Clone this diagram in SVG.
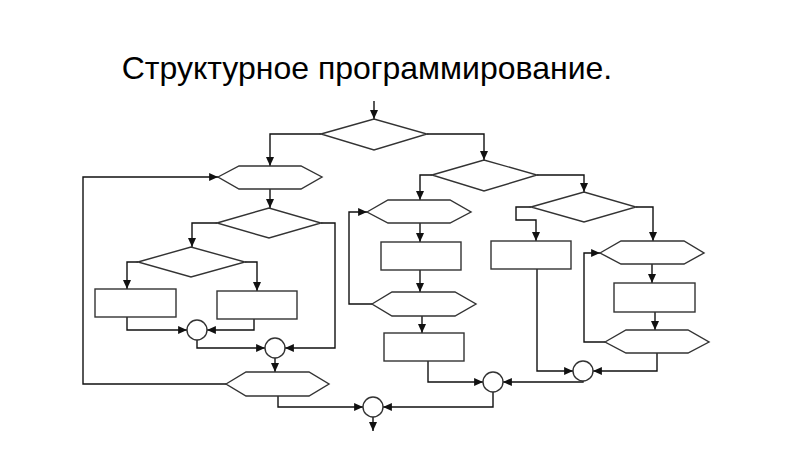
<svg xmlns="http://www.w3.org/2000/svg" width="800" height="450" viewBox="0 0 800 450">
<defs>
<marker id="ar" markerUnits="userSpaceOnUse" markerWidth="9" markerHeight="8" viewBox="0 0 10 9" refX="10" refY="4.5" orient="auto">
<path d="M0,0 L10,4.5 L0,9 z" fill="#111"/>
</marker>
<style>
.s{fill:#fff;stroke:#333;stroke-width:1.4}
.c{fill:none;stroke:#111;stroke-width:1.4;marker-end:url(#ar)}
.t{font-family:"Liberation Sans",Arial,sans-serif;font-size:32px;fill:#000}
</style>
</defs>
<rect width="800" height="450" fill="#fff"/>
<text class="t" x="367" y="79" text-anchor="middle">Структурное программирование.</text>
<g id="connectors">
<path class="c" d="M374,101 V119"/>
<path class="c" d="M321,134 H270 V166"/>
<path class="c" d="M427,134 H484 V160"/>
<path class="c" d="M270,189 V208"/>
<path class="c" d="M217,223 H192 V247"/>
<path class="c" d="M321,223 H335 V348 H285"/>
<path class="c" d="M138,262 H127 V289"/>
<path class="c" d="M245,262 H257 V291"/>
<path class="c" d="M127,317 V330 H187"/>
<path class="c" d="M254,319 V330 H207"/>
<path class="c" d="M197,340 V348 H265"/>
<path class="c" d="M275,358 V372"/>
<path class="c" d="M226,384 H83 V177 H218"/>
<path class="c" d="M278,396 V407 H363"/>
<path class="c" d="M373,417 V431"/>
<path class="c" d="M432,175 H420 V200"/>
<path class="c" d="M537,175 H584 V192"/>
<path class="c" d="M420,223 V242"/>
<path class="c" d="M420,270 V292"/>
<path class="c" d="M372,304 H349 V212 H367"/>
<path class="c" d="M422,316 V333"/>
<path class="c" d="M428,361 V382 H483"/>
<path class="c" d="M583,381 V382 H503"/>
<path class="c" d="M493,392 V407 H383"/>
<path class="c" d="M531,207 H516 V220 H536 V241"/>
<path class="c" d="M636,207 H653 V241"/>
<path class="c" d="M652,264 V283"/>
<path class="c" d="M655,312 V330"/>
<path class="c" d="M605,342 H584 V253 H600"/>
<path class="c" d="M657,353 V371 H593"/>
<path class="c" d="M537,269 V371 H573"/>
</g>
<g id="D1"><polygon class="s" points="321,134 374,119 427,134 374,150"/></g>
<g id="H1"><polygon class="s" points="218,177 239,166 301,166 322,177 301,189 239,189"/></g>
<g id="D2"><polygon class="s" points="217,223 269,208 321,223 269,238"/></g>
<g id="D4"><polygon class="s" points="138,262 191,247 245,262 191,277"/></g>
<g id="B1"><rect class="s" x="95" y="289" width="81" height="28"/></g>
<g id="B2"><rect class="s" x="217" y="291" width="80" height="28"/></g>
<g id="C1"><circle class="s" cx="197" cy="330" r="10"/></g>
<g id="C2"><circle class="s" cx="275" cy="348" r="10"/></g>
<g id="H2"><polygon class="s" points="226,384 246,372 309,372 329,384 309,396 246,396"/></g>
<g id="C5"><circle class="s" cx="373" cy="407" r="10"/></g>
<g id="D3"><polygon class="s" points="432,175 484,160 537,175 484,191"/></g>
<g id="H3"><polygon class="s" points="367,212 388,200 450,200 471,212 450,223 388,223"/></g>
<g id="B3"><rect class="s" x="381" y="242" width="80" height="28"/></g>
<g id="H4"><polygon class="s" points="372,304 392,292 455,292 476,304 455,316 392,316"/></g>
<g id="B4"><rect class="s" x="384" y="333" width="80" height="28"/></g>
<g id="C4"><circle class="s" cx="493" cy="382" r="10"/></g>
<g id="D5"><polygon class="s" points="531,207 584,192 636,207 584,222"/></g>
<g id="B5"><rect class="s" x="491" y="241" width="80" height="28"/></g>
<g id="H5"><polygon class="s" points="600,253 621,241 684,241 704,253 684,264 621,264"/></g>
<g id="B6"><rect class="s" x="614" y="283" width="81" height="29"/></g>
<g id="H6"><polygon class="s" points="605,342 626,330 688,330 709,342 688,353 626,353"/></g>
<g id="C3"><circle class="s" cx="583" cy="371" r="10"/></g>
</svg>
